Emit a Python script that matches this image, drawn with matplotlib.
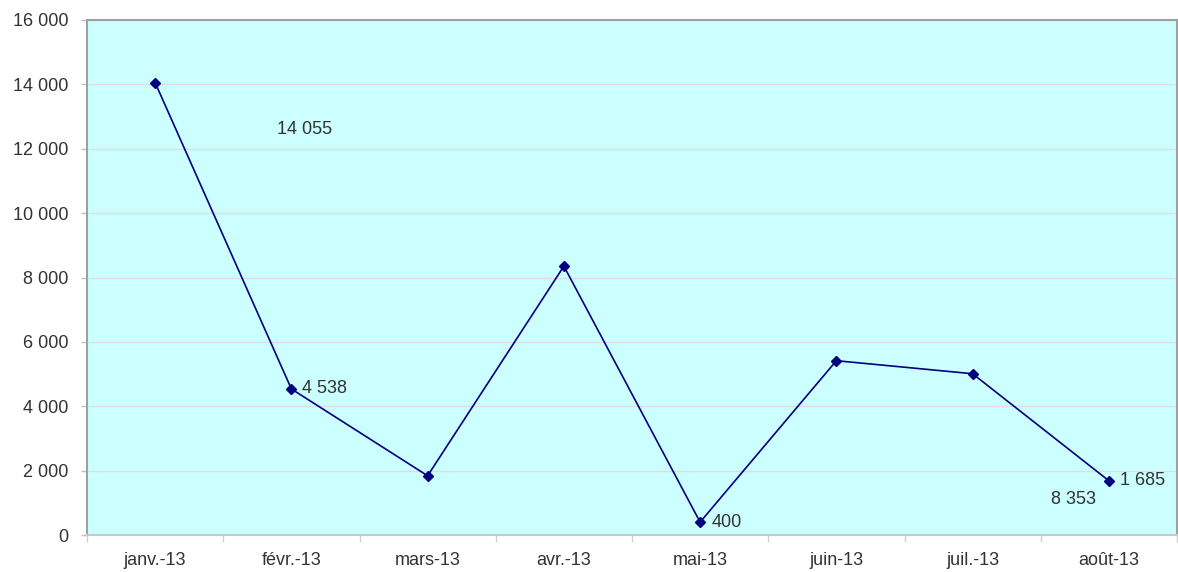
import matplotlib
matplotlib.use("Agg")
from matplotlib import pyplot as plt
from matplotlib.ticker import FuncFormatter, MultipleLocator
import numpy as np

# data
months = ["janv.-13", "févr.-13", "mars-13", "avr.-13",
          "mai-13", "juin-13", "juil.-13", "août-13"]
values = [14055, 4538, 1840, 8353, 400, 5415, 5010, 1685]
point_labels = ["14 055", "4 538", "", "8 353", "400", "", "", "1 685"]

plt.rcParams['font.family'] = ['Liberation Sans', 'DejaVu Sans']

text_col = "#333333"
bg_col = "#CCFFFF"
line_col = "#000080"
fs = 13

fig = plt.figure(figsize=(11.78, 5.72), dpi=100)
ax = fig.add_axes([87 / 1178, 37 / 572, 1090 / 1178, 515 / 572])
ax.set_facecolor(bg_col)

x = np.arange(len(months))
ax.plot(x, values, color=line_col, lw=1.2, marker="D", markersize=5.5,
        zorder=3)

# y axis
ax.set_ylim(0, 16000)
ax.yaxis.set_major_locator(MultipleLocator(2000))
ax.yaxis.set_major_formatter(FuncFormatter(lambda v, p: f"{int(v):,}".replace(",", " ")))
ax.grid(axis="y", color="#DDDDDD", lw=1, zorder=0)

# x axis: labels at centres, ticks at category boundaries
ax.set_xlim(-0.5, len(months) - 0.5)
ax.set_xticks(x)
ax.set_xticklabels(months)
ax.set_xticks(np.arange(len(months) + 1) - 0.5, minor=True)
ax.tick_params(axis="x", which="major", length=0, pad=12,
               labelsize=fs, labelcolor=text_col)
ax.tick_params(axis="x", which="minor", length=5, color="#D0D0D0", width=1)
ax.tick_params(axis="y", length=4.5, width=1, color="#C0C0C0", pad=9,
               labelsize=fs, labelcolor=text_col)

for side in ["left", "top", "right"]:
    ax.spines[side].set_color("#A0A0A0")
    ax.spines[side].set_linewidth(1.5)
ax.spines["bottom"].set_color("#C8C8C8")
ax.spines["bottom"].set_linewidth(1.5)

# data labels (placed like the original, some are offset from their point)
for i in [1, 4, 7]:
    ax.annotate(point_labels[i], (x[i], values[i]), xytext=(8, 0),
                textcoords="offset points", ha="left", va="center",
                fontsize=fs, color=text_col)
ax.text(1.1, 12600, point_labels[0], ha="center", va="center",
        fontsize=fs, color=text_col)
ax.text(6.74, 1090, point_labels[3], ha="center", va="center",
        fontsize=fs, color=text_col)

fig.savefig("out.png", dpi=100)
